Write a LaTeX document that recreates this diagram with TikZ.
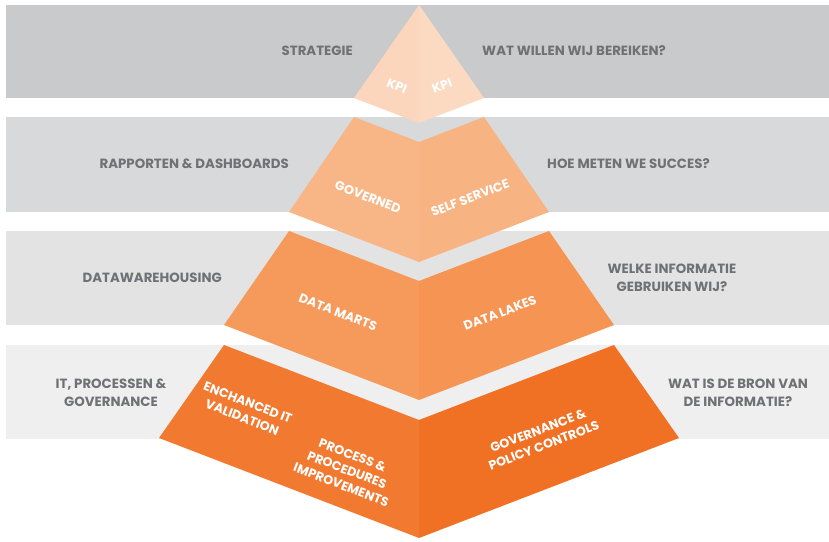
\documentclass[tikz,border=0pt]{standalone}
\usepackage{fontspec}
\setmainfont{Poppins}
\usepackage{tikz}
\definecolor{ccccdd}{rgb}{0.788,0.792,0.800}
\definecolor{ddddee}{rgb}{0.847,0.851,0.859}
\definecolor{eeeeee}{rgb}{0.890,0.890,0.894}
\definecolor{ffffee}{rgb}{0.937,0.937,0.937}
\definecolor{uuuuvv}{rgb}{0.44,0.443,0.455}
\definecolor{ffddbb}{rgb}{0.984,0.839,0.737}
\definecolor{ffddcc}{rgb}{0.988,0.855,0.760}
\definecolor{ffbbqq}{rgb}{0.973,0.714,0.529}
\definecolor{ffbbpp}{rgb}{0.973,0.702,0.514}
\definecolor{ffzzqq}{rgb}{0.965,0.604,0.361}
\definecolor{ffzzpp}{rgb}{0.965,0.580,0.325}
\definecolor{ffuuqq}{rgb}{0.949,0.478,0.188}
\definecolor{ffttqq}{rgb}{0.941,0.439,0.141}
\begin{document}
\begin{tikzpicture}[x=0.03cm,y=-0.03cm,
  sidelabel/.style={font=\bfseries\fontsize{11.4}{15.5}\selectfont,text=uuuuvv,inner sep=0pt},
  piecelabel/.style={font=\bfseries\fontsize{10.8}{13.5}\selectfont,text=white,inner sep=0pt,align=center}]
\useasboundingbox (0,0) rectangle (829,542);
% bands
\fill [color=ccccdd] (6,5) rectangle (829,98);
\fill [color=ddddee] (6,117) rectangle (829,212);
\fill [color=eeeeee] (6,231) rectangle (829,325);
\fill [color=ffffee] (6,345) rectangle (829,439);
% pyramid
\fill [color=ffddbb] (419,5)-- (354,98)-- (419,123)-- cycle;
\fill [color=ffddcc] (419,5)-- (484,98)-- (419,123)-- cycle;
\fill [color=ffbbqq] (419,142)-- (354,117)-- (289,212)-- (419,262)-- cycle;
\fill [color=ffbbpp] (419,142)-- (484,117)-- (549,212)-- (419,262)-- cycle;
\fill [color=ffzzqq] (419,281)-- (289,231)-- (224,325)-- (419,400)-- cycle;
\fill [color=ffzzpp] (419,281)-- (549,231)-- (614,325)-- (419,400)-- cycle;
\fill [color=ffuuqq] (419,420)-- (224,345)-- (159,438)-- (419,538)-- cycle;
\fill [color=ffttqq] (419,420)-- (614,345)-- (679,438)-- (419,538)-- cycle;
% left and right texts
\node [sidelabel,anchor=east] (strategie) at (353,51) {STRATEGIE};
\node [sidelabel,anchor=west] (bereiken) at (482,51) {WAT WILLEN WIJ BEREIKEN?};
\node [sidelabel,anchor=east] (rapporten) at (289,164) {RAPPORTEN \& DASHBOARDS};
\node [sidelabel,anchor=west] (succes) at (547,164) {HOE METEN WE SUCCES?};
\node [sidelabel,anchor=east] (dwh) at (222,278) {DATAWAREHOUSING};
\node [sidelabel,align=center] (informatie) at (672,278) {WELKE INFORMATIE\\GEBRUIKEN WIJ?};
\node [sidelabel,align=center] (processen) at (111,393) {IT, PROCESSEN \&\\GOVERNANCE};
\node [sidelabel,align=center] (bron) at (738,393) {WAT IS DE BRON VAN\\DE INFORMATIE?};
% pyramid texts
\node [piecelabel,rotate=-21] (kpil) at (397,86) {KPI};
\node [piecelabel,rotate=21] (kpir) at (442,86) {KPI};
\node [piecelabel,rotate=-21] (governed) at (368,197) {GOVERNED};
\node [piecelabel,rotate=21] (selfservice) at (470,198) {SELF SERVICE};
\node [piecelabel,rotate=-21] (datamarts) at (338,312) {DATA MARTS};
\node [piecelabel,rotate=21] (datalakes) at (500,313) {DATA LAKES};
\node [piecelabel,rotate=-21] (enhanced) at (245,410) {ENCHANCED IT\\VALIDATION};
\node [piecelabel,rotate=-21] (process) at (347,470) {PROCESS \&\\PROCEDURES\\IMPROVEMENTS};
\node [piecelabel,rotate=21] (policy) at (541,438) {GOVERNANCE \&\\POLICY CONTROLS};
\end{tikzpicture}
\end{document}
